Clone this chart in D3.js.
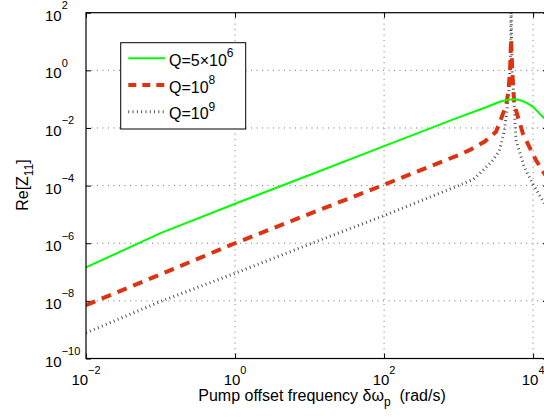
<!DOCTYPE html>
<html>
<head>
<meta charset="utf-8">
<script src="https://cdn.jsdelivr.net/npm/d3@7"></script>
<style>
body{margin:0;background:#fff;overflow:hidden;}
svg{display:block;font-family:"Liberation Sans",Arial,Helvetica,sans-serif;}
</style>
</head>
<body>
<svg id="chart" width="544" height="418"></svg>
<script>
// values (pump offset in rad/s, Re[Z11])
var freqQ5e6 = [0.01, 0.1, 1, 10, 100, 1000, 2340, 3550, 4570, 5620, 6760, 8060, 10000, 12600, 15800, 20000];
var reQ5e6   = [1.45e-7, 2.24e-6, 2.34e-5, 2.34e-4, 2.34e-3, 2.34e-2, 5.25e-2, 8.1e-2, 9.5e-2, 1.0e-1, 9.1e-2, 7.6e-2, 5.4e-2, 2.9e-2, 1.6e-2, 8.0e-3];

var freqQ1e8 = [0.01, 0.1, 1, 10, 100, 1000, 1400, 2220, 3180, 3720, 4350, 4680, 4900, 5010, 5070, 5130, 5250, 5430, 5620, 7280, 8910, 10960, 13700, 17000];
var reQ1e8   = [7.1e-9, 8.3e-8, 1.0e-6, 1.05e-5, 1.07e-4, 1.15e-3, 1.7e-3, 3.3e-3, 7.4e-3, 2.1e-2, 6.2e-2, 0.2, 1.0, 5.0, 12.6, 5.0, 1.0, 0.2, 6.2e-2, 6.5e-3, 2.2e-3, 7.6e-4, 3.0e-4, 1.3e-4];

var freqQ1e9 = [0.01, 0.1, 1, 10, 100, 1000, 1585, 2090, 2820, 3530, 4120, 4350, 4680, 4900, 5010, 5070, 5130, 5250, 5500, 5890, 7590, 10000, 12600, 15800];
var reQ1e9   = [7.8e-10, 9.5e-9, 9.1e-8, 9.3e-7, 9.1e-6, 1.0e-4, 1.66e-4, 3.2e-4, 7.1e-4, 1.6e-3, 7.9e-3, 2.5e-2, 0.13, 1.0, 10, 400, 10, 1.0, 0.13, 3.8e-3, 4.5e-4, 1.1e-4, 4.0e-5, 1.6e-5];

var xTicks = [1e-2, 1, 1e2, 1e4];
var xTickExp = ["\u22122", "0", "2", "4"];
var yTicks = [1e-10, 1e-8, 1e-6, 1e-4, 1e-2, 1, 1e2];
var yTickExp = ["\u221210", "\u22128", "\u22126", "\u22124", "\u22122", "0", "2"];

var legendBase = ["Q=5\u00d710", "Q=10", "Q=10"];
var legendExp = ["6", "8", "9"];

var plotL = 86, plotR = 548, plotT = 12.7, plotB = 358.5;

var svg = d3.select("#chart");

var x = d3.scaleLog().domain([1e-2, 15849]).range([plotL, plotR]);
var y = d3.scaleLog().domain([1e-10, 1e2]).range([plotB, plotT]);

svg.append("rect").attr("width", 544).attr("height", 418).attr("fill", "#fff");

// dotted grid
svg.append("g").selectAll("line").data(yTicks.slice(1, -1)).enter().append("line")
	.attr("x1", plotL).attr("x2", plotR)
	.attr("y1", function(d){return y(d);}).attr("y2", function(d){return y(d);})
	.attr("stroke", "#777").attr("stroke-width", 1).attr("stroke-dasharray", "1,4.5");
svg.append("g").selectAll("line").data(xTicks.slice(1)).enter().append("line")
	.attr("y1", plotT).attr("y2", plotB)
	.attr("x1", function(d){return x(d);}).attr("x2", function(d){return x(d);})
	.attr("stroke", "#777").attr("stroke-width", 1).attr("stroke-dasharray", "1,4.5");

// inward ticks on all four sides
svg.append("g").attr("transform", "translate(0," + plotB + ")")
	.call(d3.axisBottom(x).tickValues(xTicks).tickSize(-5).tickSizeOuter(0).tickFormat(""));
svg.append("g").attr("transform", "translate(0," + plotT + ")")
	.call(d3.axisTop(x).tickValues(xTicks).tickSize(-5).tickSizeOuter(0).tickFormat(""));
svg.append("g").attr("transform", "translate(" + plotL + ",0)")
	.call(d3.axisLeft(y).tickValues(yTicks).tickSize(-5).tickSizeOuter(0).tickFormat(""));
svg.append("g").attr("transform", "translate(" + plotR + ",0)")
	.call(d3.axisRight(y).tickValues(yTicks).tickSize(-5).tickSizeOuter(0).tickFormat(""));
svg.selectAll(".domain").remove();
svg.selectAll(".tick line").attr("stroke", "#000");

// curves
svg.append("clipPath").attr("id", "clip").append("rect")
	.attr("x", plotL).attr("y", plotT).attr("width", plotR - plotL).attr("height", plotB - plotT);

var line = d3.line().x(function(d){return x(d[0]);}).y(function(d){return y(d[1]);});
var plot = svg.append("g").attr("clip-path", "url(#clip)");

plot.append("path").datum(d3.zip(freqQ1e9, reQ1e9)).attr("d", line)
	.attr("fill", "none").attr("stroke", "#444").attr("stroke-width", 3).attr("stroke-dasharray", "0.9,3.4");
plot.append("path").datum(d3.zip(freqQ1e8, reQ1e8)).attr("d", line)
	.attr("fill", "none").attr("stroke", "#dd3311").attr("stroke-width", 4).attr("stroke-dasharray", "10,7");
plot.append("path").datum(d3.zip(freqQ5e6, reQ5e6)).attr("d", line)
	.attr("fill", "none").attr("stroke", "#00ff00").attr("stroke-width", 2);

// axes box
svg.append("rect").attr("x", plotL).attr("y", plotT).attr("width", plotR - plotL).attr("height", plotB - plotT)
	.attr("fill", "none").attr("stroke", "#000").attr("stroke-width", 1.2);

// tick labels
var xl = svg.append("g").selectAll("text").data(xTicks).enter().append("text")
	.attr("x", function(d){return x(d);}).attr("y", 385)
	.attr("text-anchor", "middle").attr("font-size", 15);
xl.append("tspan").text("10");
xl.append("tspan").attr("dy", -11).attr("font-size", 11).text(function(d, i){return xTickExp[i];});

var yl = svg.append("g").selectAll("text").data(yTicks).enter().append("text")
	.attr("x", 45).attr("y", function(d){return y(d) + 8;})
	.attr("font-size", 15);
yl.append("tspan").text("10");
yl.append("tspan").attr("dy", -11.5).attr("font-size", 11).text(function(d, i){return yTickExp[i];});

// axis titles
var xt = svg.append("text").attr("x", 322).attr("y", 401).attr("text-anchor", "middle").attr("font-size", 16);
xt.append("tspan").text("Pump offset frequency \u03b4\u03c9");
xt.append("tspan").attr("dy", 5).attr("font-size", 12).text("p");
xt.append("tspan").attr("dy", -5).text("\u00a0 (rad/s)");

var yt = svg.append("text").attr("transform", "translate(28,185) rotate(-90)").attr("text-anchor", "middle").attr("font-size", 16);
yt.append("tspan").text("Re[Z");
yt.append("tspan").attr("dy", 5).attr("font-size", 12).text("11");
yt.append("tspan").attr("dy", -5).text("]");

// legend
var legend = svg.append("g");
legend.append("rect").attr("x", 120.7).attr("y", 42.7).attr("width", 125).attr("height", 86.3)
	.attr("fill", "#fff").attr("stroke", "#000").attr("stroke-width", 1);
var legStroke = ["#00ff00", "#dd3311", "#444"];
var legWidth = [2, 4, 3];
var legDash = [null, "8,6", "0.9,3.4"];
var legY = [58.3, 85, 111.7];
legend.selectAll("line").data(legY).enter().append("line")
	.attr("x1", 128.3).attr("x2", 165)
	.attr("y1", function(d){return d;}).attr("y2", function(d){return d;})
	.attr("stroke", function(d, i){return legStroke[i];})
	.attr("stroke-width", function(d, i){return legWidth[i];})
	.attr("stroke-dasharray", function(d, i){return legDash[i];});
var lt = legend.selectAll("text").data(legY).enter().append("text")
	.attr("x", 169).attr("y", function(d){return d + 7.5;}).attr("font-size", 16);
lt.append("tspan").text(function(d, i){return legendBase[i];});
lt.append("tspan").attr("dy", -8.5).attr("font-size", 12).text(function(d, i){return legendExp[i];});
</script>
</body>
</html>
